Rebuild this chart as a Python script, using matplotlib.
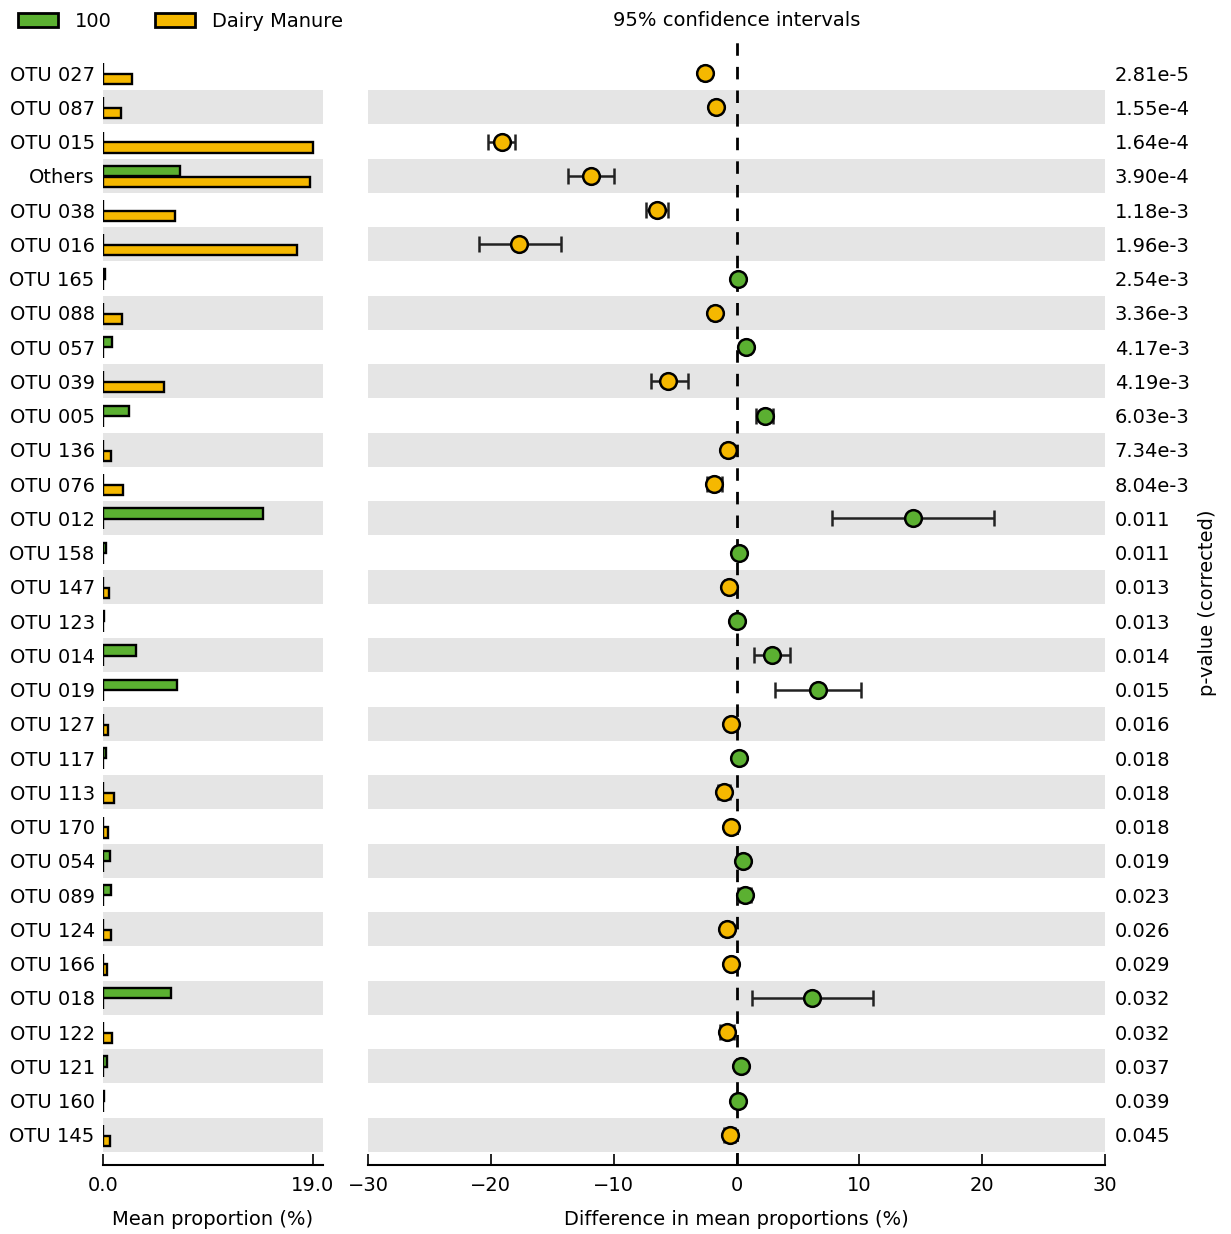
import matplotlib
matplotlib.use("Agg")
import matplotlib.pyplot as plt
from matplotlib.patches import Patch
import numpy as np

plt.rcParams['font.family'] = ['DejaVu Sans']

# features, top to bottom
otus = ['OTU 027', 'OTU 087', 'OTU 015', 'Others', 'OTU 038', 'OTU 016', 'OTU 165', 'OTU 088',
        'OTU 057', 'OTU 039', 'OTU 005', 'OTU 136', 'OTU 076', 'OTU 012', 'OTU 158', 'OTU 147',
        'OTU 123', 'OTU 014', 'OTU 019', 'OTU 127', 'OTU 117', 'OTU 113', 'OTU 170', 'OTU 054',
        'OTU 089', 'OTU 124', 'OTU 166', 'OTU 018', 'OTU 122', 'OTU 121', 'OTU 160', 'OTU 145']

# mean proportions (%) per group
mean_100 = [0.0, 0.0, 0.0, 7.0, 0.0, 0.0, 0.15, 0.0,
            0.85, 0.0, 2.35, 0.0, 0.0, 14.5, 0.25, 0.0,
            0.1, 3.0, 6.7, 0.0, 0.3, 0.0, 0.0, 0.6,
            0.7, 0.0, 0.0, 6.2, 0.0, 0.4, 0.1, 0.0]
mean_dairy = [2.6, 1.65, 19.0, 18.8, 6.5, 17.6, 0.0, 1.7,
              0.0, 5.5, 0.0, 0.7, 1.8, 0.0, 0.0, 0.55,
              0.0, 0.0, 0.0, 0.45, 0.0, 1.0, 0.45, 0.0,
              0.0, 0.7, 0.4, 0.0, 0.8, 0.0, 0.0, 0.6]

# difference in mean proportions and 95% CI
diff = [-2.6, -1.7, -19.1, -11.85, -6.5, -17.7, 0.1, -1.75,
        0.8, -5.6, 2.3, -0.7, -1.8, 14.4, 0.2, -0.6,
        0.05, 2.9, 6.6, -0.45, 0.2, -1.0, -0.45, 0.5,
        0.7, -0.75, -0.45, 6.15, -0.8, 0.35, 0.1, -0.55]
ci_low = [-2.9, -2.0, -20.2, -13.7, -7.4, -21.0, 0.0, -2.1,
          0.5, -7.0, 1.6, -1.0, -2.4, 7.8, 0.05, -0.9,
          0.0, 1.4, 3.1, -0.7, 0.1, -1.5, -0.7, 0.3,
          0.15, -1.1, -0.7, 1.25, -1.35, 0.1, 0.0, -1.0]
ci_high = [-2.3, -1.4, -18.0, -10.0, -5.6, -14.3, 0.2, -1.4,
           1.1, -3.95, 3.0, -0.4, -1.2, 21.0, 0.35, -0.3,
           0.1, 4.35, 10.1, -0.2, 0.35, -0.5, -0.2, 0.7,
           1.2, -0.4, -0.2, 11.1, -0.2, 0.6, 0.2, -0.1]

pvals = ['2.81e-5', '1.55e-4', '1.64e-4', '3.90e-4', '1.18e-3', '1.96e-3', '2.54e-3', '3.36e-3',
         '4.17e-3', '4.19e-3', '6.03e-3', '7.34e-3', '8.04e-3', '0.011', '0.011', '0.013',
         '0.013', '0.014', '0.015', '0.016', '0.018', '0.018', '0.018', '0.019',
         '0.023', '0.026', '0.029', '0.032', '0.032', '0.037', '0.039', '0.045']

green = '#5bb031'
yellow = '#f5b800'
band = '#e5e5e5'
fs = 14

W, H = 1231, 1234
fig = plt.figure(figsize=(W / 100, H / 100), dpi=100)
ax_top, ax_bot = 40, 1165
hgt = (ax_bot - ax_top) / H
ax_bar = fig.add_axes([103 / W, 1 - ax_bot / H, 220 / W, hgt])
ax_ci = fig.add_axes([368 / W, 1 - ax_bot / H, 737 / W, hgt])

rows = np.arange(len(otus))
ylim = (31.88, -0.967)

for ax in (ax_bar, ax_ci):
    for i in rows:
        if i % 2 == 1:
            ax.axhspan(i - 0.5, i + 0.5, color=band, lw=0, zorder=0)
    ax.set_ylim(*ylim)
    for s in ('top', 'left', 'right'):
        ax.spines[s].set_visible(False)
    ax.spines['bottom'].set_linewidth(1.5)
    ax.tick_params(axis='x', direction='in', length=8, width=1.2, labelsize=fs, pad=8)

# mean proportion bars
ax_bar.barh(rows - 0.14, mean_100, height=0.3, color=green, edgecolor='black', lw=1.7, zorder=2)
ax_bar.barh(rows + 0.17, mean_dairy, height=0.3, color=yellow, edgecolor='black', lw=1.7, zorder=2)
ax_bar.set_xlim(0, 19.95)
ax_bar.set_xticks([0, 19])
ax_bar.set_xticklabels(['0.0', '19.0'])
ax_bar.set_yticks(rows)
ax_bar.set_yticklabels(otus)
ax_bar.tick_params(axis='y', length=0, labelsize=fs, pad=6)
ax_bar.set_xlabel('Mean proportion (%)', fontsize=fs, labelpad=11)

# confidence intervals
ax_ci.axvline(0, color='black', ls=(0, (4.5, 4.0)), lw=2, zorder=1)
for i in rows:
    c = green if diff[i] > 0 else yellow
    ax_ci.errorbar(diff[i], i, xerr=[[diff[i] - ci_low[i]], [ci_high[i] - diff[i]]],
                   fmt='o', color='black', ecolor='#222222', elinewidth=1.8, capsize=6,
                   capthick=1.5, markersize=12, markerfacecolor=c, markeredgecolor='black',
                   markeredgewidth=1.8, zorder=3)
ax_ci.set_xlim(-30, 30)
ax_ci.set_xticks(np.arange(-30, 31, 10))
ax_ci.set_yticks([])
ax_ci.set_xlabel('Difference in mean proportions (%)', fontsize=fs, labelpad=11)

# corrected p-values on the right
ax_p = ax_ci.twinx()
ax_p.set_ylim(*ylim)
for s in ax_p.spines.values():
    s.set_visible(False)
ax_p.set_yticks(rows)
ax_p.set_yticklabels(pvals)
ax_p.tick_params(axis='y', length=0, labelsize=fs, pad=7)
ax_p.set_ylabel('p-value (corrected)', fontsize=fs, rotation=90, labelpad=6)
ax_p.yaxis.set_label_position('right')

fig.text(736.5 / W, 1 - 21 / H, '95% confidence intervals', fontsize=fs, ha='center', va='center')

handles = [Patch(facecolor=green, edgecolor='black', lw=2),
           Patch(facecolor=yellow, edgecolor='black', lw=2)]
fig.legend(handles, ['100', 'Dairy Manure'], loc='upper left', bbox_to_anchor=(18 / W, 1 - 12 / H),
           ncol=2, frameon=False, fontsize=fs, borderpad=0, handlelength=2.06, handleheight=0.72,
           handletextpad=0.88, columnspacing=2.2, borderaxespad=0)

fig.savefig('out.png', dpi=100, facecolor='white')
